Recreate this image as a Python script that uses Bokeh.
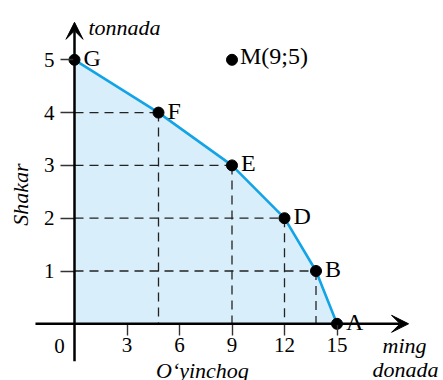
import numpy as np
from bokeh.plotting import figure
from bokeh.models import LinearAxis, FixedTicker, Arrow, VeeHead, Range1d
from bokeh.embed import file_html
from bokeh.resources import INLINE
from bokeh.core.properties import value

# Data: production possibilities (O'yinchoq, ming donada  vs  Shakar, tonnada)
point_names = ["G", "F", "E", "D", "B", "A"]
toys = [0, 4.8, 9, 12, 13.8, 15]
sugar = [5, 4, 3, 2, 1, 0]
m_name = ["M(9;5)"]
m_x = [9]
m_y = [5]
x_ticks = [3, 6, 9, 12, 15]
y_ticks = [1, 2, 3, 4, 5]

FONT = "'Liberation Serif', 'Times New Roman', serif"
SX = 17.5   # px per x unit
SY = 52.8   # px per y unit
W, H = 443, 380
X0, Y0 = 74, 323.3  # origin in plot pixels

p = figure(width=W, height=H,
           x_range=Range1d(-X0 / SX, (W - X0) / SX),
           y_range=Range1d(-(H - Y0) / SY, Y0 / SY),
           output_backend="svg", toolbar_location=None, min_border=0,
           x_axis_type=None, y_axis_type=None)
p.outline_line_color = None
p.background_fill_color = "white"
p.border_fill_color = "white"

tx = np.array(toys, dtype=float)
sy = np.array(sugar, dtype=float)

# shaded feasible area
p.varea(x=tx, y1=np.zeros_like(sy), y2=sy, fill_color="#d8eefa")

# dashed guide lines for interior points
inner = (tx > 0) & (sy > 0)
p.segment(x0=np.zeros(inner.sum()), y0=sy[inner], x1=tx[inner], y1=sy[inner],
          line_color="#222222", line_width=1.3, line_dash="9 6")
p.segment(x0=tx[inner], y0=sy[inner], x1=tx[inner], y1=np.zeros(inner.sum()),
          line_color="#222222", line_width=1.3, line_dash="9 6")

# frontier curve
p.line(tx, sy, line_color="#12a4e6", line_width=2.6)

# axes arrows
p.add_layout(Arrow(end=VeeHead(size=17, fill_color="black", line_color="black", line_width=1),
                   x_start=-2.23, y_start=0, x_end=19.09, y_end=0,
                   line_width=2.5, line_color="black"))
p.add_layout(Arrow(end=VeeHead(size=17, fill_color="black", line_color="black", line_width=1),
                   x_start=0, y_start=-0.71, x_end=0, y_end=5.71,
                   line_width=2.5, line_color="black"))

# tick axes
xax = LinearAxis(fixed_location=0, ticker=FixedTicker(ticks=x_ticks),
                 axis_line_color=None, major_tick_in=0, major_tick_out=12,
                 minor_tick_line_color=None, major_tick_line_color="#333333",
                 major_tick_line_width=1.4, major_label_text_font=FONT,
                 major_label_text_font_size="21px", major_label_text_color="black",
                 major_label_standoff=2)
p.add_layout(xax, "below")
yax = LinearAxis(fixed_location=0, ticker=FixedTicker(ticks=y_ticks),
                 axis_line_color=None, major_tick_in=0, major_tick_out=14,
                 minor_tick_line_color=None, major_tick_line_color="#333333",
                 major_tick_line_width=1.4, major_label_text_font=FONT,
                 major_label_text_font_size="21px", major_label_text_color="black",
                 major_label_standoff=6)
p.add_layout(yax, "left")

# points
p.scatter(tx, sy, size=11, color="black")
p.scatter(m_x, m_y, size=11, color="black")

# point labels
p.text(x=tx, y=sy, text=point_names, x_offset=9, y_offset=-2,
       text_font=value(FONT), text_font_size="24px", text_color="black",
       text_align="left", text_baseline="alphabetic")
p.text(x=m_x, y=m_y, text=m_name, x_offset=8, y_offset=-4,
       text_font=value(FONT), text_font_size="24px", text_color="black",
       text_align="left", text_baseline="alphabetic")

# origin label
p.text(x=[0], y=[0], text=["0"], x_offset=-15, y_offset=22,
       text_font=value(FONT), text_font_size="21px", text_color="black",
       text_align="center", text_baseline="middle")

# axis titles
def t(x, y, s, align="center", angle=0.0, baseline="alphabetic"):
    p.text(x=[x], y=[y], text=[s], angle=angle,
           text_font=value(FONT), text_font_size="22px", text_font_style="italic",
           text_color="black", text_align=align, text_baseline=baseline)

t(0.8, 5.61, "tonnada", align="left")
t(-3.086, 2.449, "Shakar", angle=np.pi / 2, baseline="middle")
t(7.31, -0.885, "O\u2018yinchoq")
t(18.86, -0.41, "ming")
t(18.91, -0.865, "donada")

open("out.html", "w").write(file_html(p, INLINE))
